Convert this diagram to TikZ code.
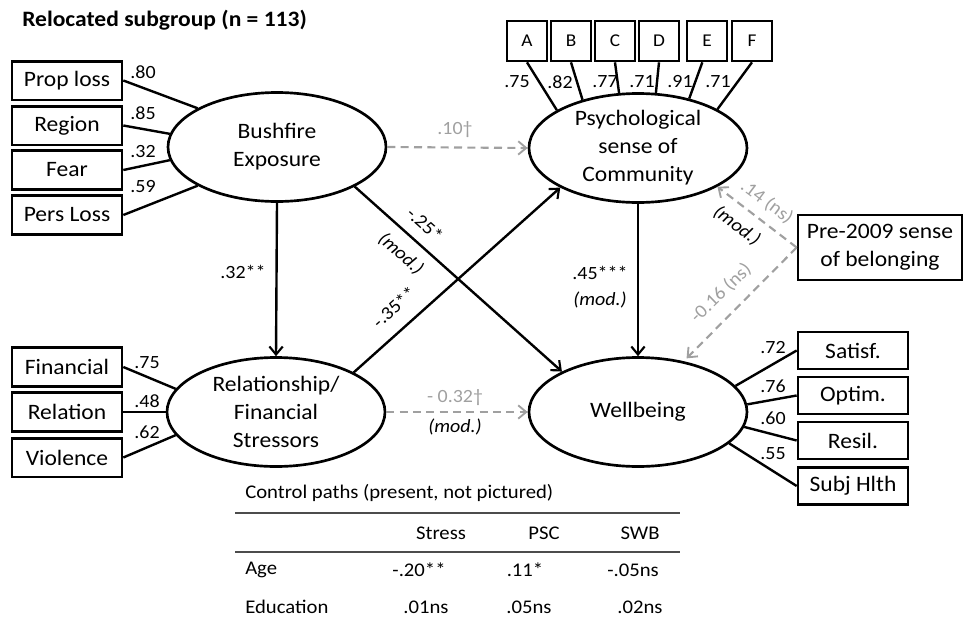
\documentclass[tikz,border=0pt]{standalone}
\usepackage{fontspec}
\setmainfont{Carlito}[FakeStretch=1.07]
\usetikzlibrary{shapes.geometric,arrows.meta}
\newcommand\mainf{\fontsize{16.5}{21}\selectfont}
\newcommand\lblf{\fontsize{14}{16}\selectfont}
\newcommand\sqf{\fontsize{13.5}{15}\selectfont}
\newcommand\tabf{\fontsize{14.5}{16}\selectfont}
\newcommand\titlef{\fontsize{16.5}{19}\selectfont\bfseries}
\definecolor{lgray}{RGB}{160,160,160}
\begin{document}
\begin{tikzpicture}[x=0.75pt,y=-0.75pt,
  lat/.style={ellipse,draw,line width=2pt,minimum width=163.5pt,minimum height=81.75pt,inner sep=0pt,align=center,font=\mainf},
  ind/.style={draw,line width=2pt,minimum width=82.5pt,minimum height=29pt,inner sep=0pt,font=\mainf},
  sq/.style={draw,line width=2pt,minimum width=30pt,minimum height=30pt,inner sep=0pt,font=\sqf},
  conn/.style={line width=1.8pt},
  path/.style={line width=1.8pt,-{Straight Barb[length=6pt,width=10pt,line width=1.6pt]}},
  dpath/.style={line width=1.6pt,lgray,dash pattern=on 6pt off 4pt,-{Straight Barb[length=6pt,width=10pt,line width=1.4pt]}},
  lbl/.style={font=\lblf,inner sep=0pt},
  glbl/.style={font=\lblf,inner sep=0pt,text=lgray},
  ilbl/.style={font=\lblf\itshape,inner sep=0pt},
  tab/.style={font=\tabf,inner sep=0pt},
  rule/.style={line width=1.2pt,black!70}
]
\useasboundingbox (0,0) rectangle (968,625);

\node[anchor=west,font=\titlef,inner sep=0pt] (title) at (22,20) {Relocated subgroup (n = 113)};

% latent variables
\node[lat] (bush) at (277,147) {Bushfire\\Exposure};
\node[lat] (rel) at (276,412) {Relationship/\\Financial\\Stressors};
\node[lat] (psc) at (638,148) {Psychological\\sense of\\Community};
\node[lat] (wb) at (638,412) {Wellbeing};

% left indicators
\node[ind] (prop) at (67,80.5) {Prop loss};
\node[ind] (region) at (67,125.5) {Region};
\node[ind] (fear) at (67,170) {Fear};
\node[ind] (pers) at (67,215) {Pers Loss};
\node[ind] (fin) at (67,367) {Financial};
\node[ind] (relat) at (67,412) {Relation};
\node[ind] (viol) at (67,457.5) {Violence};

% right indicators
\node[ind,minimum height=27.75pt] (sat) at (853,350.5) {Satisf.};
\node[ind,minimum height=27.75pt] (opt) at (853,395.5) {Optim.};
\node[ind,minimum height=27.75pt] (res) at (853,440.5) {Resil.};
\node[ind,minimum height=27.75pt] (subj) at (853,486) {Subj Hlth};

% pre-2009
\node[ind,minimum width=123pt,minimum height=48.75pt,align=center] (pre) at (880,247.5) {Pre-2009 sense\\of belonging};

% top indicators
\node[sq] (A) at (527,41) {A};
\node[sq] (B) at (571,41) {B};
\node[sq] (C) at (615,41) {C};
\node[sq] (D) at (659,41) {D};
\node[sq] (E) at (707,41) {E};
\node[sq] (F) at (752,41) {F};

% loadings
\draw[conn] (prop.east) -- (bush.154);
\draw[conn] (region.east) -- (bush.173);
\draw[conn] (fear.east) -- (bush.187);
\draw[conn] (pers.east) -- (bush.206);
\draw[conn] (fin.east) -- (rel.167);
\draw[conn] (relat.east) -- (rel.180);
\draw[conn] (viol.east) -- (rel.193);
\draw[conn] (sat.west) -- (wb.15);
\draw[conn] (opt.west) -- (wb.4.7);
\draw[conn] (res.west) -- (wb.-8.5);
\draw[conn] (subj.west) -- (wb.-19.7);
\draw[conn] (A.south) -- (psc.155);
\draw[conn] (B.south) -- (psc.139);
\draw[conn] (C.south) -- (psc.109);
\draw[conn] (D.south) -- (psc.72);
\draw[conn] ([xshift=-3.5pt]E.south) -- (psc.44);
\draw[conn] (F.south) -- (psc.26);

% loading labels
\node[lbl] at (143,72) {.80};
\node[lbl] at (143,113) {.85};
\node[lbl] at (143,152) {.32};
\node[lbl] at (143,187) {.59};
\node[lbl] at (147,363) {.75};
\node[lbl] at (147,401) {.48};
\node[lbl] at (147,432) {.62};
\node[lbl] at (773,348) {.72};
\node[lbl] at (773,386) {.76};
\node[lbl] at (773,418) {.60};
\node[lbl] at (773,454) {.55};
\node[lbl] at (517,82) {.75};
\node[lbl] at (560,82) {.82};
\node[lbl] at (605,82) {.77};
\node[lbl] at (642,82) {.71};
\node[lbl] at (680,82) {.91};
\node[lbl] at (718,82) {.71};

% structural paths
\draw[path] (bush.south) -- (rel.north);
\draw[path] (psc.south) -- (wb.north);
\draw[path] (bush.-27) -- (wb.152);
\draw[path] (rel.27) -- (psc.207);
\draw[dpath] (bush.east) -- (psc.west);
\draw[dpath] (rel.east) -- (wb.west);
\draw[dpath] (pre.west) -- (psc.-26.6);
\draw[dpath,shorten >=3pt] (pre.west) -- (wb.48);

% path labels
\node[lbl] at (243,272) {.32**};
\node[lbl] at (600,273) {.45***};
\node[ilbl] at (600,300) {(mod.)};
\node[lbl,rotate=-42] at (425,224) {-.25*};
\node[ilbl,rotate=-42] at (401,254) {(mod.)};
\node[lbl,rotate=42] at (394,307) {-.35**};
\node[glbl] at (455,130) {.10\textdagger};
\node[glbl] at (455,398) {- 0.32\textdagger};
\node[ilbl] at (455,427) {(mod.)};
\node[glbl,rotate=-37] at (767,202) {.14 (ns)};
\node[ilbl,rotate=-37] at (737,226) {(mod.)};
\node[glbl,rotate=44] at (721,293) {-0.16 (ns)};

% table
\node[tab,anchor=west] (ctitle) at (245,493) {Control paths (present, not pictured)};
\draw[rule] (235,513) -- (680,513);
\node[tab] (hs) at (441,533) {Stress};
\node[tab] (hp) at (544,533) {PSC};
\node[tab] (hw) at (640,533) {SWB};
\draw[rule] (235,552) -- (680,552);
\node[tab,anchor=west] (age) at (245,570) {Age};
\node[tab] (a1) at (419,570) {-.20**};
\node[tab] (a2) at (525,570) {.11*};
\node[tab] (a3) at (633,570) {-.05ns};
\node[tab,anchor=west] (edu) at (245,607) {Education};
\node[tab] (e1) at (426,607) {.01ns};
\node[tab] (e2) at (529,607) {.05ns};
\node[tab] (e3) at (640,607) {.02ns};
\end{tikzpicture}
\end{document}
